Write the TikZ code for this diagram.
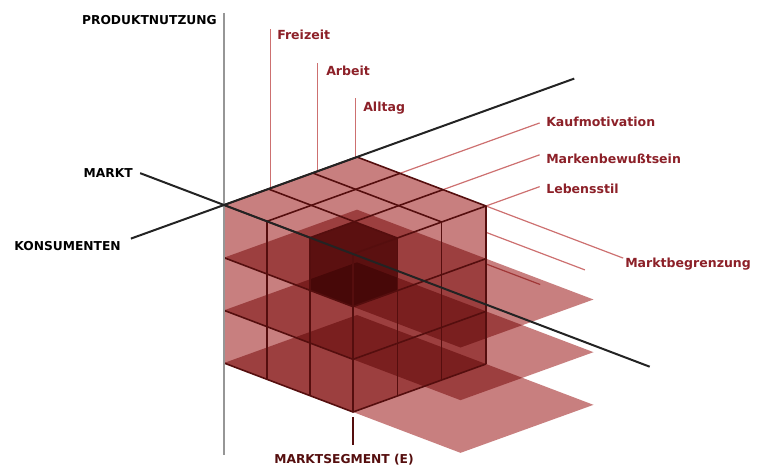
\documentclass[tikz,border=0pt]{standalone}
\usepackage{fontspec}
\setmainfont{DejaVu Sans}
\usetikzlibrary{positioning}
\definecolor{rose}{RGB}{200,127,127}
\definecolor{cellred}{RGB}{150,66,66}
\definecolor{gridred}{RGB}{85,14,14}
\definecolor{labelred}{RGB}{140,32,40}
\definecolor{linered}{RGB}{205,112,112}
\definecolor{axisgray}{RGB}{150,150,150}
\definecolor{axisdark}{RGB}{35,35,35}
\tikzset{
    face/.style={fill=rose, blend mode=multiply},
    darkface/.style={fill=cellred, blend mode=multiply},
    gridline/.style={draw=gridred, line width=1.2pt, line join=round},
    axisline/.style={draw=axisdark, line width=1.5pt},
    lead/.style={draw=linered, line width=0.9pt},
    caps/.style={font=\bfseries\fontsize{9.2}{11}\selectfont, text=black, inner sep=0pt},
    lab/.style={font=\bfseries\fontsize{9.4}{11}\selectfont, text=labelred, inner sep=0pt},
}
\newcommand{\CubeGrid}{
    \draw[gridline] (0,0,0) -- (3,0,0) -- (3,3,0) -- (0,3,0) -- cycle;
    \draw[gridline] (1,0,0) -- (1,3,0);
    \draw[gridline] (2,0,0) -- (2,3,0);
    \draw[gridline] (0,1,0) -- (3,1,0);
    \draw[gridline] (0,2,0) -- (3,2,0);
    \draw[gridline] (0,0,-1) -- (0,3,-1) -- (3,3,-1);
    \draw[gridline] (0,0,-2) -- (0,3,-2) -- (3,3,-2);
    \draw[gridline] (0,0,-3) -- (0,3,-3) -- (3,3,-3);
    \draw[gridline] (0,1,0) -- (0,1,-3);
    \draw[gridline] (0,2,0) -- (0,2,-3);
    \draw[gridline] (0,3,0) -- (0,3,-3);
    \draw[gridline] (1,3,0) -- (1,3,-3);
    \draw[gridline] (2,3,0) -- (2,3,-3);
    \draw[gridline] (3,3,0) -- (3,3,-3);
}
\begin{document}
\begin{tikzpicture}[x=0.75pt, y=-0.75pt]
    \useasboundingbox (0,0) rectangle (757,468);
    \begin{scope}[shift={(224,205)}, x={(33.25pt,12pt)}, y={(32.25pt,-12.25pt)}, z={(0pt,39.5pt)}]
        \coordinate (freiA) at (1.05,0,0);
        \coordinate (freiB) at (1.05,0,3.02);
        \coordinate (arbA) at (2.1,0,0);
        \coordinate (arbB) at (2.1,0,2.06);
        \coordinate (allA) at (2.97,0,0);
        \coordinate (allB) at (2.97,0,1.13);
        \coordinate (kaufA) at (3,1,0);
        \coordinate (kaufB) at (6.15,1,0);
        \coordinate (markA) at (3,2,0);
        \coordinate (markB) at (5.18,2,0);
        \coordinate (lebA) at (3,3,0);
        \coordinate (lebB) at (4.21,3,0);
        \coordinate (grenzB) at (3,6.19,0);
        \coordinate (grenzC) at (3,3,-0.5);
        \coordinate (grenzD) at (3,5.3,-0.5);
        \coordinate (grenzE) at (3,3,-1.1);
        \coordinate (grenzF) at (3,4.26,-1.1);
        \coordinate (segA) at (0,3,-3.1);
        \coordinate (segB) at (0,3,-3.62);
        \draw[lead] (freiA) -- (freiB);
        \draw[lead] (arbA) -- (arbB);
        \draw[lead] (allA) -- (allB);
        \draw[lead] (kaufA) -- (kaufB);
        \draw[lead] (markA) -- (markB);
        \draw[lead] (lebA) -- (lebB);
        \draw[lead] (lebA) -- (grenzB);
        \draw[lead] (grenzC) -- (grenzD);
        \draw[lead] (grenzE) -- (grenzF);
        \fill[face] (0,0,-1) -- (3,0,-1) -- (3,5.5,-1) -- (0,5.5,-1) -- cycle;
        \fill[face] (0,0,-2) -- (3,0,-2) -- (3,5.5,-2) -- (0,5.5,-2) -- cycle;
        \fill[face] (0,0,-3) -- (3,0,-3) -- (3,5.5,-3) -- (0,5.5,-3) -- cycle;
        \fill[face] (0,0,0) -- (0,3,0) -- (0,3,-3) -- (0,0,-3) -- cycle;
        \fill[face] (0,3,0) -- (3,3,0) -- (3,3,-3) -- (0,3,-3) -- cycle;
        \fill[face] (0,0,0) -- (3,0,0) -- (3,3,0) -- (0,3,0) -- cycle;
        \fill[darkface] (0,2,0) -- (1,2,0) -- (1,3,0) -- (0,3,0) -- cycle;
        \fill[darkface] (0,2,0) -- (0,3,0) -- (0,3,-1) -- (0,2,-1) -- cycle;
        \fill[darkface] (0,3,0) -- (1,3,0) -- (1,3,-1) -- (0,3,-1) -- cycle;
        \CubeGrid
        \draw[gridred, line width=1.6pt] (segA) -- (segB);
        \draw[axisgray, line width=2pt] (0,0,3.65) -- (0,0,-4.75);
        \draw[axisline] (-2.1,0,0) -- (7.9,0,0);
        \draw[axisline] (0,-1.95,0) -- (0,9.9,0);
    \end{scope}
    \node[caps, anchor=base east] (nutzung) at (217,24.5) {PRODUKTNUTZUNG};
    \node[caps, anchor=base east] (markt) at (133,177.5) {MARKT};
    \node[caps, anchor=base east] (konsum) at (121,250.5) {KONSUMENTEN};
    \node[caps, text=gridred, anchor=base] (segment) at (344,463.5) {MARKTSEGMENT (E)};
    \node[lab, anchor=base west] (freizeit) at (277,39.5) {Freizeit};
    \node[lab, anchor=base west] (arbeit) at (326,75.5) {Arbeit};
    \node[lab, anchor=base west] (alltag) at (363,111.5) {Alltag};
    \node[lab, anchor=base west] (kauf) at (546,126.5) {Kaufmotivation};
    \node[lab, anchor=base west] (marken) at (546,163.5) {Markenbewußtsein};
    \node[lab, anchor=base west] (leben) at (546,193.5) {Lebensstil};
    \node[lab, anchor=base west] (grenze) at (625,267.5) {Marktbegrenzung};
\end{tikzpicture}
\end{document}
